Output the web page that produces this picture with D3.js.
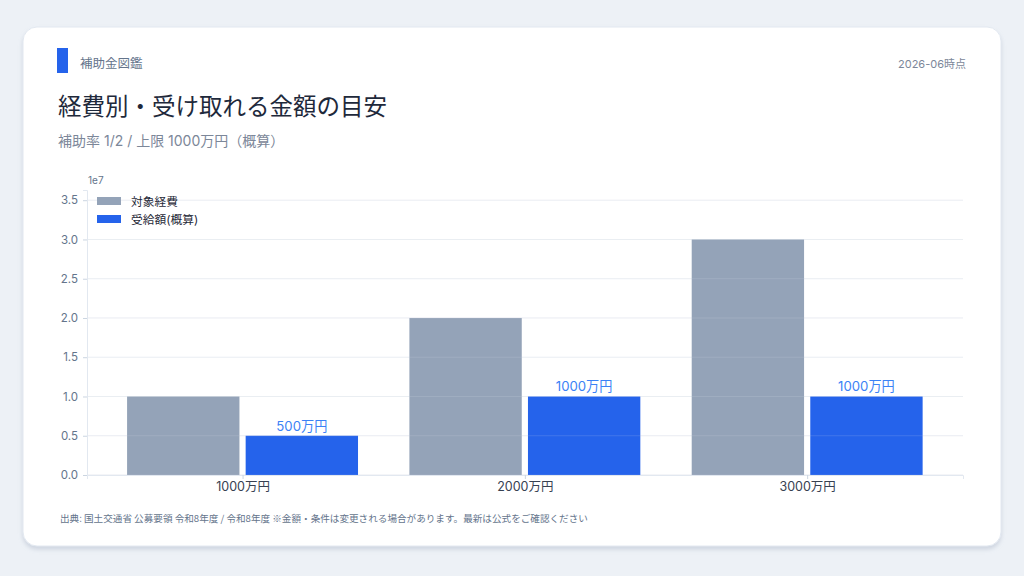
<!DOCTYPE html>
<html>
<head>
<meta charset="utf-8">
<script src="https://cdn.jsdelivr.net/npm/d3@7"></script>
<style>
  html, body { margin: 0; padding: 0; background: #edf1f6; }
  svg { display: block; font-family: Inter, "Noto Sans CJK JP", "Noto Sans", sans-serif; }
</style>
</head>
<body>
<script>
// chart data
var categories = ["1000万円", "2000万円", "3000万円"];
var seriesNames = ["対象経費", "受給額(概算)"];
var costValues = [10000000, 20000000, 30000000];
var grantValues = [5000000, 10000000, 10000000];
var grantLabels = ["500万円", "1000万円", "1000万円"];
var yTicks = [0, 5000000, 10000000, 15000000, 20000000, 25000000, 30000000, 35000000];
var colors = ["#94a3b8", "#2563eb"];

var W = 1024, H = 576;

var svg = d3.select("body").append("svg")
    .attr("width", W)
    .attr("height", H);

// card with a soft shadow
var defs = svg.append("defs");
var f = defs.append("filter").attr("id", "shadow")
    .attr("x", "-5%").attr("y", "-5%").attr("width", "110%").attr("height", "115%");
f.append("feDropShadow").attr("dx", 0).attr("dy", 3).attr("stdDeviation", 2)
    .attr("flood-color", "#94a3b8").attr("flood-opacity", 0.35);

svg.append("rect")
    .attr("x", 23).attr("y", 27)
    .attr("width", 978).attr("height", 519)
    .attr("rx", 14)
    .attr("fill", "#ffffff")
    .attr("stroke", "#e2e8f0")
    .attr("filter", "url(#shadow)");

// header
svg.append("rect").attr("x", 57).attr("y", 48).attr("width", 11).attr("height", 25).attr("fill", "#2563eb");
svg.append("text").attr("x", 80).attr("y", 68)
    .attr("font-size", 12.5).attr("fill", "#64748b").text("補助金図鑑");
svg.append("text").attr("x", 966).attr("y", 68).attr("text-anchor", "end")
    .attr("font-size", 11).attr("fill", "#7c8799").text("2026-06時点");
svg.append("text").attr("x", 58).attr("y", 115)
    .attr("font-size", 23.5).attr("fill", "#1e293b").text("経費別・受け取れる金額の目安");
svg.append("text").attr("x", 58).attr("y", 146)
    .attr("font-size", 14).attr("fill", "#7c8799").text("補助率 1/2 / 上限 1000万円（概算）");

// plot area
var pLeft = 87, pRight = 963, pTop = 190, pBottom = 475;

var x = d3.scaleLinear().domain([-0.551, 2.552]).range([pLeft, pRight]);
var y = d3.scaleLinear().domain([0, 36300000]).range([pBottom, pTop]);

var barW = 0.398, off = 0.21;

var g = svg.append("g");

// gridlines under the bars
g.selectAll(".grid").data(yTicks).enter().append("line")
    .attr("x1", pLeft).attr("x2", pRight)
    .attr("y1", function(d) { return y(d); })
    .attr("y2", function(d) { return y(d); })
    .attr("stroke", "#eceff3")
    .attr("stroke-width", 1);

// grey bars
g.selectAll(".cost").data(costValues).enter().append("rect")
    .attr("class", "cost")
    .attr("x", function(d, i) { return x(i - off - barW / 2); })
    .attr("width", x(barW) - x(0))
    .attr("y", function(d) { return y(d); })
    .attr("height", function(d) { return y(0) - y(d); })
    .attr("fill", colors[0]);

// blue bars
g.selectAll(".grant").data(grantValues).enter().append("rect")
    .attr("class", "grant")
    .attr("x", function(d, i) { return x(i + off - barW / 2); })
    .attr("width", x(barW) - x(0))
    .attr("y", function(d) { return y(d); })
    .attr("height", function(d) { return y(0) - y(d); })
    .attr("fill", colors[1]);

// faint grid showing through bars
g.selectAll(".grid2").data(yTicks).enter().append("line")
    .attr("x1", pLeft).attr("x2", pRight)
    .attr("y1", function(d) { return y(d); })
    .attr("y2", function(d) { return y(d); })
    .attr("stroke", "#e2e8f0")
    .attr("stroke-opacity", 0.15)
    .attr("stroke-width", 1);

// value labels
g.selectAll(".val").data(grantValues).enter().append("text")
    .attr("x", function(d, i) { return x(i + off); })
    .attr("y", function(d) { return y(d) - 5; })
    .attr("text-anchor", "middle")
    .attr("font-size", 13.2)
    .attr("fill", "#3b82f6")
    .text(function(d, i) { return grantLabels[i]; });

// y axis
var yAxis = svg.append("g")
    .attr("transform", "translate(" + pLeft + ",0)")
    .call(d3.axisLeft(y).tickValues(yTicks).tickSize(4).tickPadding(5)
        .tickFormat(function(d) { return (d / 1e7).toFixed(1); }));
yAxis.select(".domain").attr("stroke", "#e2e8f0");
yAxis.selectAll(".tick line").attr("stroke", "#cbd5e1");
yAxis.selectAll(".tick text").attr("fill", "#64748b").attr("font-size", 11.5)
    .attr("font-family", "Inter, sans-serif");

svg.append("text").attr("x", 88).attr("y", 184)
    .attr("font-size", 10).attr("fill", "#64748b")
    .attr("font-family", "Inter, sans-serif").text("1e7");

// x axis
var xAxis = svg.append("g")
    .attr("transform", "translate(0," + pBottom + ")")
    .call(d3.axisBottom(x).tickValues([0, 1, 2]).tickSize(4).tickPadding(3)
        .tickFormat(function(d) { return categories[d]; }));
xAxis.select(".domain").attr("stroke", "#e2e8f0");
xAxis.selectAll(".tick line").attr("stroke", "#cbd5e1");
xAxis.selectAll(".tick text").attr("fill", "#374151").attr("font-size", 12.5)
    .attr("font-family", "Inter, Noto Sans CJK JP, sans-serif");

// legend
var legend = svg.append("g").attr("transform", "translate(97,197)");
seriesNames.forEach(function(name, i) {
    legend.append("rect").attr("x", 0).attr("y", i * 18)
        .attr("width", 24).attr("height", 8).attr("fill", colors[i]);
    legend.append("text").attr("x", 34).attr("y", i * 18 + 8.5)
        .attr("font-size", 11.75).attr("fill", "#1f2937").text(name);
});

// footnote
svg.append("text").attr("x", 60).attr("y", 522)
    .attr("font-size", 9.6).attr("fill", "#64748b")
    .attr("font-family", "Noto Sans CJK JP, sans-serif")
    .text("出典: 国土交通省 公募要領 令和8年度 / 令和8年度 ※金額・条件は変更される場合があります。最新は公式をご確認ください");
</script>
</body>
</html>
